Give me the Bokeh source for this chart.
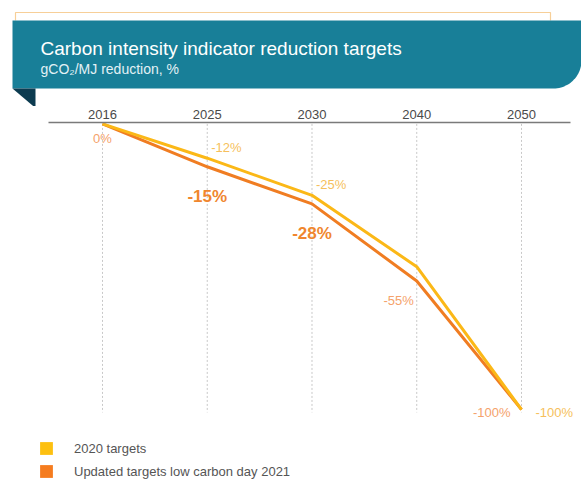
import numpy as np
from bokeh.plotting import figure
from bokeh.models import Range1d, FixedTicker, Legend, LegendItem
from bokeh.layouts import column
from bokeh.embed import file_html
from bokeh.resources import INLINE
from bokeh.core.properties import value

# ---------------- data ----------------
years = ["2016", "2025", "2030", "2040", "2050"]
targets_2020 = [0, -12, -25, -50, -100]
targets_2021 = [0, -15, -28, -55, -100]
series_names = ["2020 targets", "Updated targets low carbon day 2021"]
title_text = "Carbon intensity indicator reduction targets"
subtitle_text = "gCO\u2082/MJ reduction, %"

# ---------------- styles ----------------
FONT = value("Liberation Sans")
TEAL = "#187f98"
NAVY = "#0c3b50"
YELLOW = "#fbb817"
ORANGE = "#f07d22"
YELLOW_SQ = "#fdc010"
ORANGE_SQ = "#f57c1f"
PALE_YEL = "#f6bf5c"
PALE_ORA = "#f5a26b"
BOLD_ORA = "#f0862e"

W = 581
H_TOP = 106
H_BOT = 479 - H_TOP

# ---------------- banner figure ----------------
top = figure(width=W, height=H_TOP, x_range=Range1d(0, W), y_range=Range1d(H_TOP, 0),
             toolbar_location=None, output_backend="svg", x_axis_type=None, y_axis_type=None,
             min_border=0, outline_line_color=None)

top.line([15, 15, 550, 550], [20, 12, 12, 20], line_color="#f7cf98", line_width=1.2)

t = np.linspace(0, np.pi / 2, 24)
cx, cy, r = 553, 60, 28
bx = [12, W] + list(cx + r * np.cos(t)) + [12]
by = [20, 20] + list(cy + r * np.sin(t)) + [88]
top.patch(bx, by, fill_color=TEAL, line_color=None)
top.patch([12, 35, 35, 33.2], [88, 88, 106, 106], fill_color=NAVY, line_color=None)

top.text(x=[40], y=[48], text=[title_text], text_color="white", text_font=FONT,
         text_font_size="19px", text_baseline="alphabetic", text_align="left")
top.text(x=[40], y=[68], text=[subtitle_text], text_color="#e3f1f5", text_font=FONT,
         text_font_size="14px", text_baseline="alphabetic", text_align="left")

# ---------------- chart figure ----------------
xs = list(range(len(years)))
bot = figure(width=W, height=H_BOT, x_range=Range1d(-0.9737, 4.5728), y_range=Range1d(-124.5, 0.5),
             toolbar_location=None, output_backend="svg", x_axis_location="above",
             y_axis_type=None, min_border=0, outline_line_color=None)
bot.grid.visible = False

ax = bot.xaxis[0]
ax.ticker = FixedTicker(ticks=xs)
ax.major_label_overrides = {i: y for i, y in enumerate(years)}
ax.major_tick_in = 0
ax.major_tick_out = 0
ax.minor_tick_in = 0
ax.minor_tick_out = 0
ax.major_tick_line_color = None
ax.minor_tick_line_color = None
ax.axis_line_color = "#7a7a7a"
ax.axis_line_width = 1.5
ax.bounds = (-0.52, 4.47)
ax.major_label_text_font = "Liberation Sans"
ax.major_label_text_font_size = "13px"
ax.major_label_text_color = "#4a4a4a"
ax.major_label_standoff = 4

# dotted vertical guides
bot.segment(x0=xs, y0=[0] * len(xs), x1=xs, y1=[-101] * len(xs),
            line_color="#c8c8c8", line_dash="2 2", line_width=1)

bot.line(xs, targets_2021, line_color=ORANGE, line_width=3)
bot.line(xs, targets_2020, line_color=YELLOW, line_width=3)

def labels(idx, vals, **kw):
    bot.text(x=[xs[i] for i in idx], y=[vals[i] for i in idx],
             text=[f"{vals[i]}%" for i in idx], text_font=FONT, text_baseline="middle", **kw)

labels([1, 2], targets_2020, x_offset=4, y_offset=-11, text_align="left",
       text_color=PALE_YEL, text_font_size="13px")
labels([4], targets_2020, x_offset=14, y_offset=3, text_align="left",
       text_color=PALE_YEL, text_font_size="13px")
labels([0], targets_2021, x_offset=0, y_offset=15, text_align="center",
       text_color=PALE_ORA, text_font_size="13px")
labels([1, 2], targets_2021, x_offset=0, y_offset=30, text_align="center",
       text_color=BOLD_ORA, text_font_size="17px", text_font_style="bold")
labels([3], targets_2021, x_offset=-3, y_offset=19, text_align="right",
       text_color=PALE_ORA, text_font_size="13px")
labels([4], targets_2021, x_offset=-11, y_offset=3, text_align="right",
       text_color=PALE_ORA, text_font_size="13px")

# legend swatches: zero-area quads on the series points (invisible in the plot)
r1 = bot.quad(left=xs, right=xs, top=targets_2020, bottom=targets_2020,
              fill_color=YELLOW_SQ, line_color=None)
r2 = bot.quad(left=xs, right=xs, top=targets_2021, bottom=targets_2021,
              fill_color=ORANGE_SQ, line_color=None)
legend = Legend(items=[LegendItem(label=series_names[0], renderers=[r1]),
                       LegendItem(label=series_names[1], renderers=[r2])],
                location=(38, 0), orientation="vertical", glyph_width=16, glyph_height=16,
                label_height=16, spacing=7, padding=0, margin=0, border_line_color=None,
                background_fill_alpha=0, label_text_font="Liberation Sans",
                label_text_font_size="13px", label_text_color="#555555", label_standoff=20)
bot.add_layout(legend)

layout = column(top, bot, spacing=0)
open("out.html", "w").write(file_html(layout, INLINE))
